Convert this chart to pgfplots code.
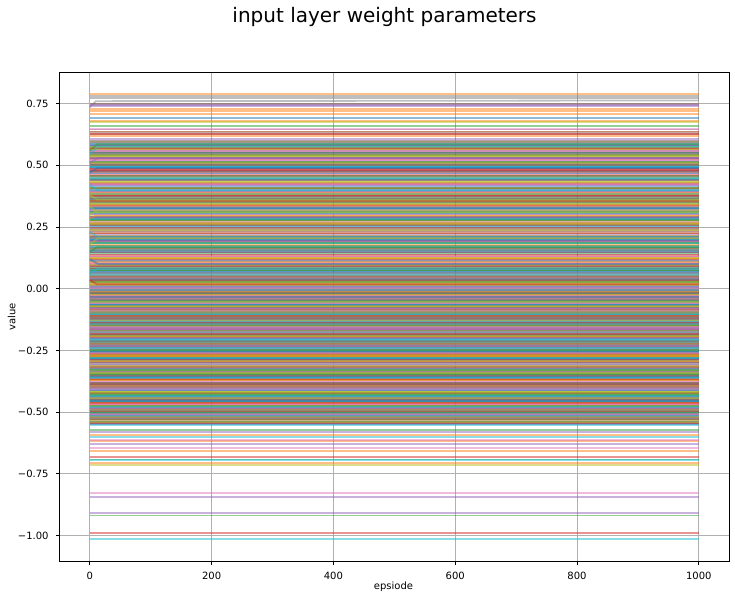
\documentclass[border=0pt]{standalone}
\usepackage{fontspec}
\setmainfont{DejaVu Sans}
\usepackage{pgfplots}
\pgfplotsset{compat=1.18}
\definecolor{c0}{HTML}{1F77B4}
\definecolor{c1}{HTML}{FF7F0E}
\definecolor{c2}{HTML}{2CA02C}
\definecolor{c3}{HTML}{D62728}
\definecolor{c4}{HTML}{9467BD}
\definecolor{c5}{HTML}{8C564B}
\definecolor{c6}{HTML}{E377C2}
\definecolor{c7}{HTML}{7F7F7F}
\definecolor{c8}{HTML}{BCBD22}
\definecolor{c9}{HTML}{17BECF}
\definecolor{gridc}{HTML}{B0B0B0}
\newcommand\HL[2]{\pgfplotsinvokeforeach{#2}{\addplot[#1] coordinates {(0,##1)(1000,##1)};}}
\begin{document}
\begin{tikzpicture}
\path[use as bounding box] (0,0) rectangle (735pt,599pt);
\begin{axis}[
  at={(59.3pt,38pt)}, anchor=south west,
  width=670pt, height=488.7pt, scale only axis,
  xmin=-50, xmax=1050, ymin=-1.103, ymax=0.877,
  xtick={0,200,400,600,800,1000},
  xticklabels={0,200,400,600,800,1000},
  ytick={-1,-0.75,-0.5,-0.25,0,0.25,0.5,0.75},
  yticklabels={−1.00,−0.75,−0.50,−0.25,0.00,0.25,0.50,0.75},
  tick pos=left, tick align=outside, major tick length=3.5pt,
  every tick/.style={black, line width=0.8pt},
  axis line style={black, line width=0.8pt},
  grid=major, grid style={gridc, line width=0.8pt},
  xticklabel style={anchor=north, inner sep=0pt, yshift=-7pt, font=\fontsize{10}{12}\selectfont},
  yticklabel style={anchor=east, inner sep=0pt, xshift=-7pt, font=\fontsize{10}{12}\selectfont},
  xlabel={epsiode}, ylabel={value},
  xlabel style={at={(axis description cs:0.4988,-0.0593)}, anchor=base, inner sep=0pt, font=\fontsize{10}{12}\selectfont},
  ylabel style={at={(axis description cs:-0.0654,0.5)}, anchor=base, inner sep=0pt, font=\fontsize{10}{12}\selectfont},
  title={input layer weight parameters},
  title style={at={(axis description cs:0.4854,1.0896)}, anchor=base, inner sep=0pt, font=\fontsize{20}{24}\selectfont},
  every axis plot/.append style={line width=1.8pt, opacity=0.5},
]
% main band, negative part
\HL{c0}{-0.547,-0.507,-0.489,-0.450,-0.441,-0.406,-0.393,-0.349,-0.331,-0.292,-0.283,-0.248,-0.236,-0.192,-0.174,-0.152,-0.111,-0.104,-0.067,-0.046,-0.012}
\HL{c1}{-0.538,-0.520,-0.477,-0.464,-0.430,-0.395,-0.384,-0.365,-0.324,-0.303,-0.268,-0.258,-0.223,-0.212,-0.162,-0.141,-0.125,-0.094,-0.080,-0.035,-0.023}
\HL{c2}{-0.530,-0.513,-0.497,-0.455,-0.423,-0.414,-0.380,-0.344,-0.338,-0.307,-0.271,-0.251,-0.213,-0.205,-0.183,-0.144,-0.113,-0.097,-0.076,-0.056,-0.016}
\HL{c3}{-0.543,-0.500,-0.483,-0.470,-0.435,-0.400,-0.389,-0.355,-0.317,-0.315,-0.274,-0.254,-0.234,-0.190,-0.168,-0.148,-0.134,-0.083,-0.072,-0.041,-0.027}
\HL{c4}{-0.535,-0.523,-0.490,-0.453,-0.443,-0.408,-0.372,-0.359,-0.336,-0.296,-0.288,-0.239,-0.221,-0.201,-0.181,-0.137,-0.120,-0.107,-0.061,-0.052,-0.006}
\HL{c5}{-0.527,-0.515,-0.495,-0.459,-0.421,-0.402,-0.387,-0.352,-0.321,-0.312,-0.279,-0.263,-0.229,-0.194,-0.162,-0.154,-0.117,-0.101,-0.070,-0.032,-0.020}
\HL{c6}{-0.549,-0.510,-0.480,-0.466,-0.437,-0.397,-0.377,-0.364,-0.328,-0.309,-0.265,-0.246,-0.232,-0.209,-0.165,-0.159,-0.129,-0.089,-0.078,-0.039,-0.029}
\HL{c7}{-0.540,-0.504,-0.486,-0.448,-0.446,-0.412,-0.381,-0.347,-0.340,-0.299,-0.285,-0.243,-0.227,-0.197,-0.177,-0.140,-0.132,-0.098,-0.058,-0.048,-0.010}
\HL{c8}{-0.532,-0.518,-0.474,-0.461,-0.426,-0.418,-0.369,-0.368,-0.334,-0.294,-0.277,-0.261,-0.219,-0.188,-0.185,-0.150,-0.112,-0.092,-0.074,-0.043,-0.025}
\HL{c9}{-0.545,-0.502,-0.492,-0.457,-0.432,-0.410,-0.391,-0.357,-0.326,-0.304,-0.290,-0.256,-0.216,-0.203,-0.173,-0.135,-0.127,-0.105,-0.064,-0.055,-0.018}
\HL{c0}{-0.538,-0.455,-0.437,-0.358,-0.279,-0.257,-0.187,-0.157,-0.065,-0.033}
\HL{c1}{-0.520,-0.490,-0.393,-0.371,-0.294,-0.274,-0.195,-0.112,-0.100,-0.014}
\HL{c2}{-0.502,-0.474,-0.431,-0.346,-0.328,-0.246,-0.170,-0.149,-0.076,-0.049}
\HL{c3}{-0.545,-0.462,-0.388,-0.365,-0.287,-0.264,-0.182,-0.138,-0.109,-0.006}
\HL{c4}{-0.513,-0.483,-0.412,-0.335,-0.323,-0.231,-0.201,-0.162,-0.079,-0.040}
\HL{c5}{-0.530,-0.449,-0.423,-0.381,-0.299,-0.222,-0.212,-0.124,-0.086,-0.018}
\HL{c6}{-0.507,-0.469,-0.405,-0.376,-0.306,-0.261,-0.173,-0.154,-0.058,-0.027}
\HL{c7}{-0.524,-0.493,-0.398,-0.354,-0.315,-0.237,-0.217,-0.116,-0.092,-0.045}
\HL{c8}{-0.541,-0.444,-0.417,-0.340,-0.312,-0.269,-0.191,-0.129,-0.069,-0.053}
\HL{c9}{-0.517,-0.478,-0.434,-0.361,-0.281,-0.240,-0.207,-0.143,-0.103,-0.004}
% main band, positive part
\HL{c0}{0.005,0.071,0.092,0.147,0.198,0.208,0.260,0.313,0.322,0.385,0.414,0.476,0.489,0.549,0.577}
\HL{c1}{0.022,0.049,0.115,0.121,0.178,0.230,0.246,0.306,0.335,0.397,0.403,0.461,0.513,0.531,0.588}
\HL{c2}{0.014,0.077,0.084,0.144,0.170,0.233,0.259,0.280,0.349,0.368,0.439,0.456,0.503,0.555,0.566}
\HL{c3}{0.030,0.042,0.101,0.133,0.195,0.204,0.267,0.291,0.358,0.380,0.407,0.471,0.481,0.544,0.572}
\HL{c4}{0.008,0.065,0.096,0.159,0.166,0.222,0.253,0.314,0.323,0.388,0.419,0.450,0.517,0.525,0.586}
\HL{c5}{0.036,0.058,0.081,0.150,0.183,0.212,0.278,0.284,0.352,0.376,0.426,0.442,0.500,0.529,0.594}
\HL{c6}{0.019,0.046,0.108,0.128,0.174,0.237,0.242,0.303,0.330,0.393,0.400,0.466,0.495,0.559,0.581}
\HL{c7}{0.003,0.074,0.089,0.139,0.191,0.215,0.264,0.286,0.356,0.372,0.429,0.478,0.487,0.537,0.560}
\HL{c8}{0.027,0.053,0.119,0.125,0.161,0.226,0.273,0.297,0.341,0.361,0.435,0.448,0.508,0.538,0.598}
\HL{c9}{0.011,0.062,0.111,0.156,0.187,0.201,0.251,0.318,0.327,0.383,0.418,0.444,0.492,0.552,0.569}
\HL{c0}{0.041,0.067,0.153,0.198,0.292,0.326,0.363,0.467,0.492,0.578}
\HL{c1}{0.015,0.109,0.122,0.216,0.261,0.357,0.390,0.429,0.524,0.565}
\HL{c2}{0.028,0.074,0.175,0.186,0.279,0.311,0.408,0.443,0.515,0.541}
\HL{c3}{0.053,0.091,0.139,0.224,0.248,0.340,0.377,0.476,0.484,0.569}
\HL{c4}{0.009,0.118,0.147,0.193,0.286,0.302,0.395,0.439,0.531,0.583}
\HL{c5}{0.034,0.082,0.165,0.209,0.256,0.354,0.366,0.458,0.506,0.550}
\HL{c6}{0.002,0.100,0.131,0.231,0.272,0.320,0.419,0.425,0.523,0.557}
\HL{c7}{0.047,0.065,0.158,0.204,0.241,0.331,0.374,0.472,0.500,0.596}
\HL{c8}{0.020,0.095,0.127,0.238,0.267,0.345,0.384,0.431,0.537,0.573}
\HL{c9}{0.057,0.078,0.170,0.183,0.282,0.308,0.401,0.450,0.495,0.588}
% lines that move during the first episodes
\addplot[c2] coordinates {(0,0.560)(12,0.585)(1000,0.585)};
\addplot[c9] coordinates {(0,0.548)(14,0.575)(1000,0.575)};
\addplot[c7] coordinates {(0,0.735)(10,0.760)(1000,0.763)};
\addplot[c0] coordinates {(0,0.470)(12,0.488)(1000,0.488)};
\addplot[c8] coordinates {(0,0.300)(12,0.318)(1000,0.318)};
\addplot[c8] coordinates {(0,0.335)(12,0.310)(1000,0.310)};
\addplot[c9] coordinates {(0,0.420)(15,0.398)(1000,0.398)};
\addplot[c3] coordinates {(0,0.035)(12,0.018)(1000,0.018)};
\addplot[c1] coordinates {(0,0.285)(10,0.296)(1000,0.296)};
\addplot[c8] coordinates {(0,0.180)(14,0.205)(1000,0.205)};
\addplot[c9] coordinates {(0,0.230)(12,0.212)(1000,0.212)};
\addplot[c0] coordinates {(0,0.120)(14,0.100)(1000,0.100)};
\addplot[c2] coordinates {(0,0.150)(12,0.168)(1000,0.168)};
\addplot[c9] coordinates {(0,0.060)(12,0.082)(1000,0.082)};
\addplot[c4] coordinates {(0,0.510)(14,0.530)(1000,0.530)};
\addplot[c8] coordinates {(0,0.380)(12,0.362)(1000,0.362)};
% outliers above
\HL{c1}{0.788,0.727,0.719,0.709,0.680,0.637,0.618}
\HL{c7}{0.781,0.774,0.645}
\HL{c5}{0.750,0.634,0.628}
\HL{c4}{0.746,0.740,0.606,0.601}
\HL{c0}{0.693}
\HL{c8}{0.676}
\HL{c2}{0.659}
\HL{c6}{0.648}
\HL{c3}{0.627}
% outliers below
\HL{c2}{-0.571,-0.692,-0.919}
\HL{c4}{-0.581,-0.628,-0.845,-0.910}
\HL{c1}{-0.592,-0.618,-0.658,-0.705}
\HL{c9}{-0.551,-0.601,-0.694,-1.015}
\HL{c6}{-0.612,-0.646,-0.829}
\HL{c3}{-0.683,-0.991}
\HL{c8}{-0.713}
\end{axis}
\end{tikzpicture}
\end{document}
